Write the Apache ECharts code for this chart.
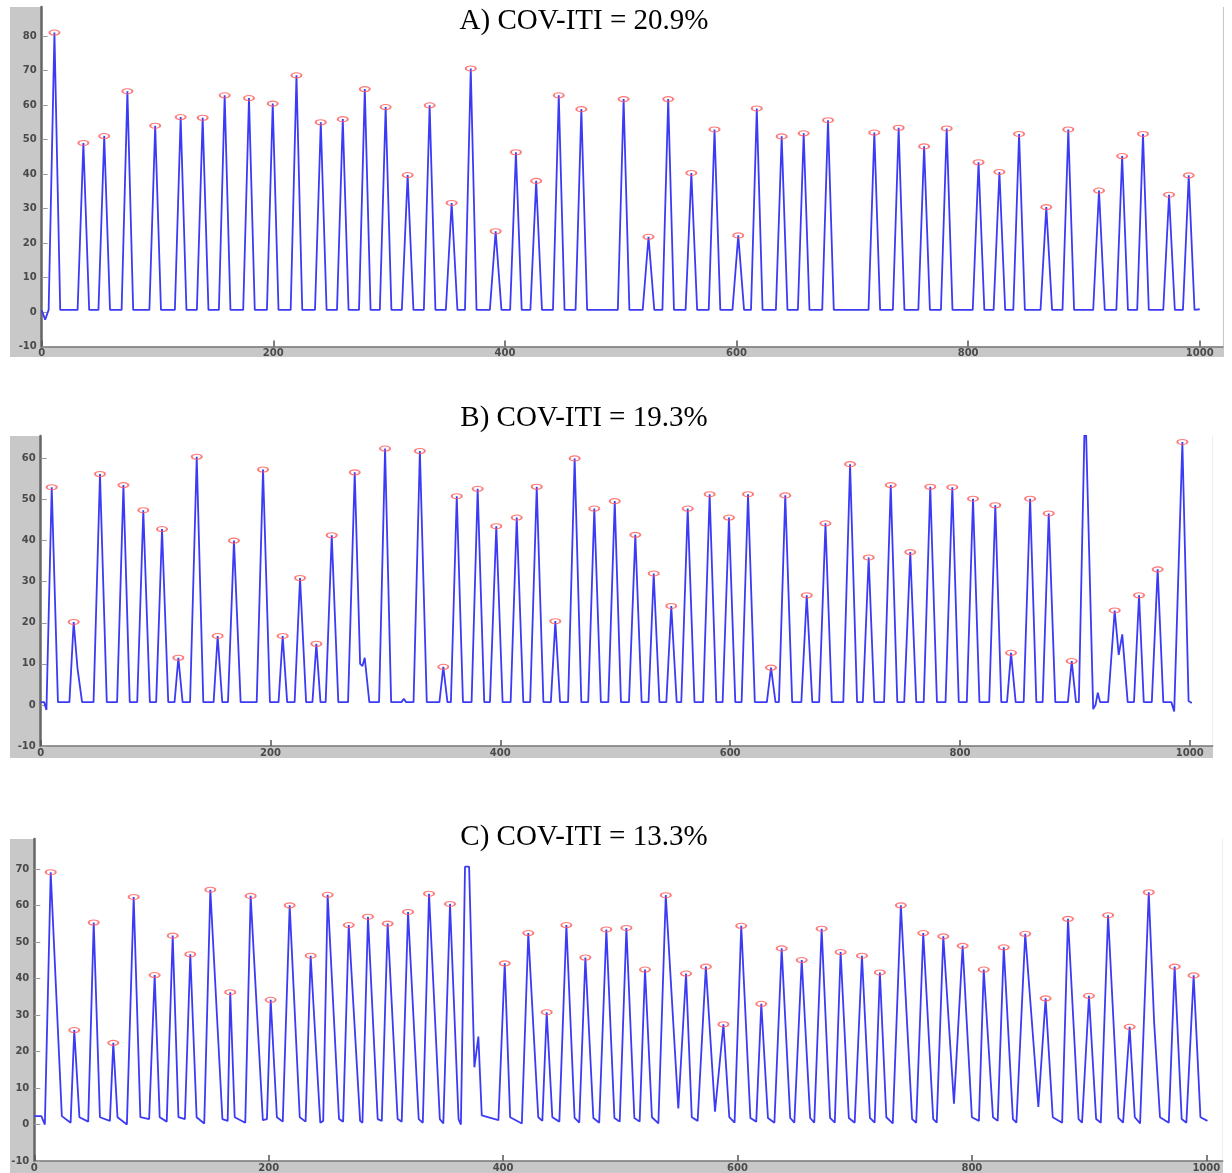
<!DOCTYPE html>
<html>
<head>
<meta charset="utf-8">
<script src="https://cdn.jsdelivr.net/npm/echarts@6/dist/echarts.min.js"></script>
<style>
  html, body { margin: 0; padding: 0; background: #fff; }
  #chart { width: 1232px; height: 1173px; }
</style>
</head>
<body>
<div id="chart"></div>
<script>
// panel titles
const titles = ['A) COV-ITI = 20.9%', 'B) COV-ITI = 19.3%', 'C) COV-ITI = 13.3%'];

// panel A: marked peaks
const peakXA = [11, 36, 54, 74, 98, 120, 139, 158, 179, 199.5, 220, 241, 260, 279, 297, 316, 335, 354, 370.5, 392,
  409.5, 427, 446.5, 466, 502.5, 524, 541, 561, 581, 601.5, 617.5, 639, 658, 679, 719, 740, 762, 781.5, 809, 827,
  844, 867.5, 886.5, 913, 933, 951, 973.5, 990.5];
const peakYA = [81, 49, 51, 64, 54, 56.5, 56.3, 62.8, 62, 60.4, 68.6, 55, 55.9, 64.6, 59.4, 39.7, 59.9, 31.6, 70.6, 23.4,
  46.3, 38, 62.8, 58.8, 61.7, 21.8, 61.7, 40.3, 52.9, 22.2, 59, 50.9, 51.8, 55.6, 52, 53.4, 48, 53.2, 43.4, 40.6,
  51.6, 30.4, 52.9, 35.2, 45.2, 51.6, 34, 39.6];
// panel A: baseline / foot points of the trace
const feetA = [
  [0,0.5],[3,-2.2],[6,0.6],[16,0.6],[31,0.6],[41,0.6],[49,0.6],[59,0.6],[69,0.6],[79,0.6],
  [93,0.6],[103,0.6],[115,0.6],[125,0.6],[134,0.6],[144,0.6],[153,0.6],[163,0.6],[174,0.6],[184,0.6],
  [194.5,0.6],[204.5,0.6],[215,0.6],[225,0.6],[236,0.6],[246,0.6],[255,0.6],[265,0.6],[274,0.6],[284,0.6],
  [292,0.6],[302,0.6],[311,0.6],[321,0.6],[330,0.6],[340,0.6],[349,0.6],[359,0.6],[365.5,0.6],[375.5,0.6],
  [387,0.6],[397,0.6],[404.5,0.6],[414.5,0.6],[422,0.6],[432,0.6],[441.5,0.6],[451.5,0.6],[461,0.6],[471,0.6],
  [497.5,0.6],[507.5,0.6],[519,0.6],[529,0.6],[536,0.6],[546,0.6],[556,0.6],[566,0.6],[576,0.6],[586,0.6],
  [596.5,0.6],[606.5,0.6],[612.5,0.6],[622.5,0.6],[634,0.6],[644,0.6],[653,0.6],[663,0.6],[674,0.6],[684,0.6],
  [714,0.6],[724,0.6],[735,0.6],[745,0.6],[757,0.6],[767,0.6],[776.5,0.6],[786.5,0.6],[804,0.6],[814,0.6],
  [822,0.6],[832,0.6],[839,0.6],[849,0.6],[862.5,0.6],[872.5,0.6],[881.5,0.6],[891.5,0.6],[908,0.6],[918,0.6],
  [928,0.6],[938,0.6],[946,0.6],[956,0.6],[968.5,0.6],[978.5,0.6],[985.5,0.6],[995.5,0.6],[1000,0.8]
];

// panel B
const peakXB = [9.6, 28.7, 51.6, 72, 89.3, 105.6, 119.8, 135.8, 154, 168.2, 193.5, 210.6, 225.7, 239.9, 253.3, 273.3,
  299.7, 330, 350.4, 362.1, 380.3, 396.5, 414.3, 431.7, 447.9, 464.7, 481.8, 499.6, 517.5, 533.5, 548.8, 563.1,
  582.2, 599, 615.6, 635.6, 648, 666.7, 683, 704.4, 720.6, 739.8, 756.8, 774.2, 793.4, 811.4, 830.8, 844.5,
  861.1, 877.3, 897.3, 934.7, 955.9, 972.1, 993.6];
const peakYB = [53, 20.2, 56.2, 53.5, 47.4, 42.8, 11.5, 60.4, 16.8, 40, 57.3, 16.8, 30.9, 14.9, 41.3, 56.6,
  62.4, 61.8, 9.3, 50.8, 52.6, 43.5, 45.6, 53.1, 20.4, 60, 47.8, 49.6, 41.4, 32, 24.1, 47.8,
  51.3, 45.6, 51.3, 9.1, 51, 26.7, 44.2, 58.6, 35.9, 53.5, 37.2, 53.1, 53, 50.2, 48.6, 12.7,
  50.2, 46.6, 10.7, 23, 26.7, 33, 64];
const feetB = [
  [0,0.7],[3,0.7],[5,-1.2],[15,0.7],[25,0.7],[32,9],[36,0.7],
  [46,0.7],[57.5,0.7],[66.5,0.7],[77.5,0.7],[84,0.7],[95,0.7],[100.5,0.7],[111,0.7],
  [116.5,0.7],[123.5,0.7],[130,0.7],[141.5,0.7],[150.5,0.7],[158,0.7],[163,0.7],[174,0.7],
  [188,0.7],[199.5,0.7],[207,0.7],[214.5,0.7],[221,0.7],[231,0.7],[236.5,0.7],[243.5,0.7],
  [248,0.7],[259,0.7],[267.5,0.7],[278,10],[280,9.5],[282,11.5],[286,0.7],
  [294.5,0.7],[305,0.7],[314,0.7],[316,1.5],[318,0.7],
  [324.5,0.7],[336,0.7],[347,0.7],[354,0.7],[357,0.7],[367.5,0.7],[375,0.7],[386,0.7],
  [391,0.7],[402,0.7],[409,0.7],[420,0.7],[426,0.7],[437.5,0.7],[444,0.7],[452,0.7],
  [459,0.7],[470.5,0.7],[476.5,0.7],[487.5,0.7],[494,0.7],[505,0.7],[512,0.7],[523,0.7],
  [529,0.7],[538.5,0.7],[544.5,0.7],[553.5,0.7],[557.5,0.7],[569,0.7],[576.5,0.7],[588,0.7],
  [593.5,0.7],[604.5,0.7],[610,0.7],[621.5,0.7],[632,0.7],[639.5,0.7],[642.5,0.7],[654,0.7],
  [662,0.7],[671.5,0.7],[677.5,0.7],[688.5,0.7],[698.5,0.7],[710.5,0.7],[715.5,0.7],[725.5,0.7],
  [734,0.7],[745.5,0.7],[751.5,0.7],[762,0.7],[768.5,0.7],[780,0.7],[787.5,0.7],[799,0.7],
  [806,0.7],[817,0.7],[825.5,0.7],[836,0.7],[841,0.7],[848.5,0.7],[855.5,0.7],[866.5,0.7],
  [872,0.7],[883,0.7],[894,0.7],[901,0.7],
  [903.5,0.7],[909,75],[910.5,75],[916,-1],[918,0],[920,3],[922,0.7],
  [929,0.7],[938.2,12.2],[941.3,17.2],[946,0.7],
  [951.5,0.7],[960,0.7],[967,0.7],[977,0.7],[984,0.7],[986.5,-1.6],[999,1],[1001.8,0.5]
];

// panel C
const peakXC = [14, 34.1, 50.7, 67.4, 84.8, 102.7, 118.1, 133.1, 150.2, 167.2, 184.6, 201.7, 217.9, 235.8, 250.3,
  268.3, 284.7, 301.5, 318.9, 336.8, 354.7, 401.4, 421.5, 437.2, 454, 470.2, 488.1, 505.2, 521.1, 538.8,
  556.1, 573, 588, 603.2, 620.3, 637.7, 654.8, 671.8, 688, 706.2, 721.5, 739.4, 758.5, 775.6, 792.1,
  810.1, 827.2, 845.5, 862.9, 882, 899.9, 916.2, 934.6, 950.9, 973, 989.2];
const peakYC = [69.2, 25.9, 55.4, 22.4, 62.4, 41, 51.8, 46.7, 64.4, 36.3, 62.7, 34.2, 60.1, 46.3, 63,
  54.7, 57, 55.1, 58.3, 63.3, 60.5, 44.2, 52.5, 30.8, 54.7, 45.8, 53.5, 53.9, 42.5, 62.9,
  41.4, 43.3, 27.5, 54.5, 33.1, 48.3, 45.1, 53.7, 47.3, 46.3, 41.7, 60.1, 52.5, 51.6, 49,
  42.5, 48.6, 52.3, 34.6, 56.4, 35.3, 57.4, 26.8, 63.7, 43.3, 40.9];
const feetC = [
  [0,2.3],[6,2.3],[9,0],[23.5,2.3],[31,0.5],[38.5,2],[46,0.8],[56,2],[64.5,1],[71,2],[79,0],
  [90.5,2],[98,1.5],[107,2],[113,0.8],[123,2],[128.5,1.5],[138.5,2],[145,0.3],[160.5,1.5],[165,1],
  [171,2],[180,0.5],[195,1.2],[198.5,1.5],[207,2],[212,0.8],[226.5,2],[231.5,0.8],[244,0.5],[246.5,1],
  [260,1.5],[263.5,0.8],[278,1],[280,0.5],[293,1.5],[296.5,1],[310,1.5],[313.5,0.8],[328,1.5],[331.5,0.5],
  [346,1.5],[349,0.3],[362,1.5],[364,0],[367.5,70.7],[371,70.7],[375.5,15.7],[378.9,24.1],[381.8,2.5],[396,1.2],
  [406,2],[416,0.3],[430,2],[433.5,1],[442,2],[448,0.8],[461,1.8],[465,0.5],[477,1.8],[482,0.5],
  [495,1.8],[499.5,0.8],[512,1.8],[516.5,0.8],[527,2],[532.5,0.3],[549.5,4.4],[561,2],[566,1],[580.8,3.5],
  [593,2],[597.5,0.5],[611,1.8],[616,0.8],[626,1.8],[631.5,0.5],[645,1.8],[648.5,0.5],[662,1.8],[665.5,0.5],
  [679,1.8],[683,0.5],[695,1.8],[700,0.5],[713,1.8],[717,0.5],[727,2],[732.5,0.3],[749,1.5],[752.5,0.5],
  [767,1.5],[770,0.5],[784.7,5.7],[800,2],[806,1],[818,2],[822,1],[835,1.5],[838,0.5],[856.7,4.8],
  [869,2],[877,0.5],[891,1.5],[894,0.5],[906,1.5],[910,0.5],[925,1.8],[929,0.5],[939,2],[943.5,0.3],
  [955.5,28],[960.5,2],[968,0.5],[979,1.5],[983,0.5],[995,2],[1001,1]
];

// layout of the three panels (pixels)
const panels = [
  { left: 41.7, top: 7,   width: 1181.2, height: 339.5, xMax: 1020, yMax: 88.4, band: [10, 7, 1214, 350],   titleY: 21 },
  { left: 40.7, top: 436, width: 1172,   height: 310.1, xMax: 1020, yMax: 65.45, band: [10, 436, 1203, 322], titleY: 418 },
  { left: 34.3, top: 839, width: 1188.4, height: 323.7, xMax: 1014, yMax: 78.3, band: [10, 839, 1213, 334],  titleY: 837 }
];

function trace(px, py, feet) {
  return px.map((x, i) => [x, py[i]]).concat(feet).sort((a, b) => a[0] - b[0]);
}
function marks(px, py) {
  return px.map((x, i) => [x, py[i]]);
}

const traces = [trace(peakXA, peakYA, feetA), trace(peakXB, peakYB, feetB), trace(peakXC, peakYC, feetC)];
const peaks = [marks(peakXA, peakYA), marks(peakXB, peakYB), marks(peakXC, peakYC)];

const labelFont = { fontFamily: 'DejaVu Sans', fontWeight: 'bold', fontSize: 10, color: '#4a4a4a' };

const option = {
  animation: false,
  backgroundColor: '#fff',
  grid: panels.map(p => ({
    left: p.left, top: p.top, width: p.width, height: p.height,
    show: true, backgroundColor: '#fff', borderWidth: 0
  })),
  xAxis: panels.map((p, i) => ({
    type: 'value', gridIndex: i, min: 0, max: p.xMax, interval: 200,
    axisLine: { show: true, onZero: false, lineStyle: { color: '#777', width: 1.5 } },
    axisTick: { show: true, inside: true, length: 6, lineStyle: { color: '#555', width: 1.5 } },
    axisLabel: Object.assign({ margin: 2, showMaxLabel: false, formatter: v => String(v) }, labelFont),
    splitLine: { show: false }
  })),
  yAxis: panels.map((p, i) => ({
    type: 'value', gridIndex: i, min: -10, max: p.yMax, interval: 10,
    axisLine: { show: true, onZero: false, lineStyle: { color: '#666', width: 2.5 } },
    axisTick: { show: true, inside: true, length: 6, lineStyle: { color: '#999', width: 1 } },
    axisLabel: Object.assign({ margin: 5, showMaxLabel: false, formatter: v => String(v) }, labelFont),
    splitLine: { show: false }
  })),
  series: [],
  graphic: []
};

panels.forEach((p, i) => {
  option.series.push({
    type: 'line', xAxisIndex: i, yAxisIndex: i,
    data: traces[i], showSymbol: false, clip: true,
    lineStyle: { color: '#3b3bf5', width: 1.8 }
  });
  option.series.push({
    type: 'scatter', xAxisIndex: i, yAxisIndex: i,
    data: peaks[i], symbol: 'circle', symbolSize: [10, 5], z: 5,
    itemStyle: { color: 'rgba(255,255,255,0)', borderColor: '#ff5a5a', borderWidth: 1.5 }
  });
  option.graphic.push({
    type: 'rect', z: -10,
    shape: { x: p.band[0], y: p.band[1], width: p.band[2], height: p.band[3] },
    style: { fill: '#c8c8c8' }
  });
  option.graphic.push({
    type: 'text', z: 100,
    style: {
      text: titles[i], x: 584, y: p.titleY,
      font: '29px "Liberation Serif"', fill: '#000',
      align: 'center', verticalAlign: 'middle'
    }
  });
});

const chart = echarts.init(document.getElementById('chart'));
chart.setOption(option);
</script>
</body>
</html>
